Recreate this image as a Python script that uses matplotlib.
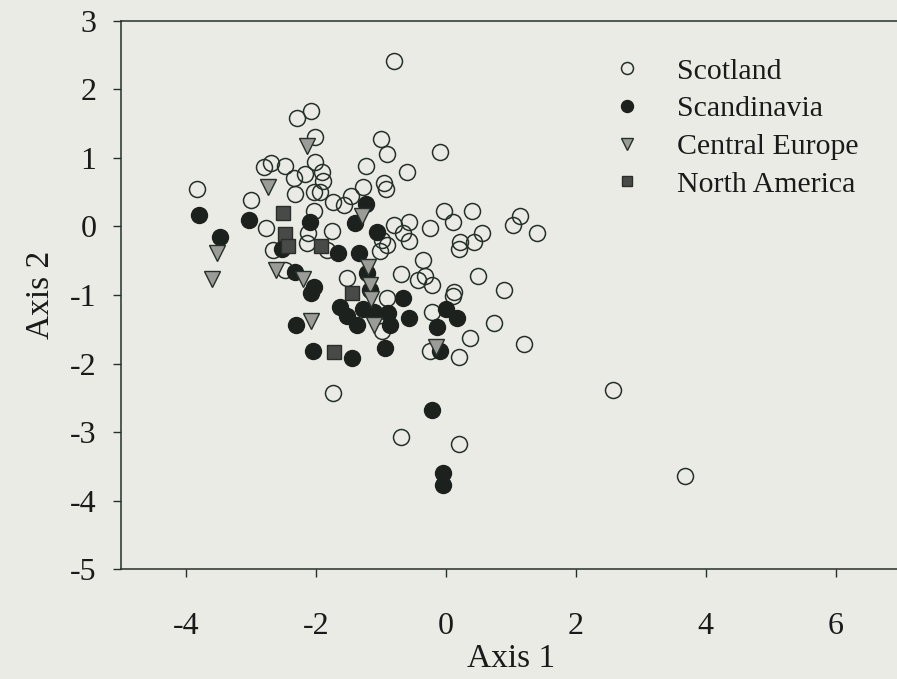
import numpy as np
import matplotlib
matplotlib.use("Agg")
import matplotlib.pyplot as plt

plt.rcParams['font.family'] = ['Liberation Serif', 'DejaVu Serif']
plt.rcParams['axes.unicode_minus'] = False

### ordination scores
scot_x = [-0.80, -2.29, -2.07, -2.01, -1.00, -0.90, -0.08, -2.79, -2.69, -2.48,
          -2.01, -1.23, -2.34, -2.16, -1.90, -1.88, -0.59, -0.95, -0.92, -1.27,
          -3.82, -2.32, -2.03, -1.94, -1.73, -1.45, -1.56, -2.99, -2.03, -2.77,
          -1.75, -2.12, -2.14, -1.83, -2.65, -2.47, -1.52, -0.03, 0.40, 0.11,
          -0.80, -0.57, -0.24, 1.14, 1.04, 1.40, 0.56, -0.65, -0.57, -1.01,
          -0.90, -0.98, 0.22, 0.20, 0.43, -0.35, -0.69, -0.43, -0.32, -0.21,
          0.49, 0.89, -0.90, -0.98, -0.21, 0.12, 0.13, -0.24, 0.20, 0.37,
          0.75, 1.20, -1.73, -0.68, 0.20, 2.58, 3.68]
scot_y = [2.41, 1.58, 1.69, 1.31, 1.27, 1.06, 1.08, 0.87, 0.92, 0.88,
          0.94, 0.88, 0.71, 0.76, 0.79, 0.66, 0.79, 0.64, 0.55, 0.57,
          0.55, 0.47, 0.51, 0.51, 0.36, 0.45, 0.32, 0.38, 0.22, -0.02,
          -0.07, -0.09, -0.24, -0.34, -0.34, -0.63, -0.75, 0.22, 0.23, 0.07,
          0.02, 0.07, -0.02, 0.15, 0.02, -0.09, -0.10, -0.10, -0.21, -0.36,
          -0.27, -0.19, -0.22, -0.33, -0.22, -0.49, -0.69, -0.78, -0.72, -0.85,
          -0.72, -0.92, -1.04, -1.53, -1.24, -1.02, -0.95, -1.81, -1.90, -1.63,
          -1.41, -1.72, -2.43, -3.07, -3.17, -2.38, -3.64]

scan_x = [-3.80, -3.03, -3.47, -2.09, -1.40, -1.23, -1.05, -2.52, -2.32, -2.02,
          -2.08, -1.65, -1.34, -1.21, -1.16, -1.62, -1.52, -1.37, -1.27, -1.11,
          -0.88, -0.85, -0.65, -0.57, -0.93, -2.30, -2.04, -1.44, -0.14, 0.01,
          0.18, -0.08, -0.21, -0.04, -0.04]
scan_y = [0.17, 0.09, -0.16, 0.07, 0.05, 0.33, -0.08, -0.33, -0.66, -0.88,
          -0.97, -0.38, -0.39, -0.68, -0.92, -1.17, -1.31, -1.43, -1.21, -1.24,
          -1.26, -1.43, -1.04, -1.34, -1.77, -1.43, -1.81, -1.92, -1.46, -1.21,
          -1.34, -1.82, -2.67, -3.60, -3.77]

ceu_x = [-2.14, -2.73, -1.28, -3.52, -3.60, -2.61, -2.20, -1.19, -1.16, -1.15,
         -1.11, -2.07, -0.15]
ceu_y = [1.18, 0.57, 0.16, -0.38, -0.76, -0.63, -0.77, -0.59, -0.85, -1.06,
         -1.43, -1.38, -1.75]

nam_x = [-2.51, -2.47, -2.42, -1.92, -1.44, -1.72]
nam_y = [0.19, -0.11, -0.29, -0.29, -0.97, -1.83]

bg = '#ebebe6'
ink = '#26302a'

fig = plt.figure(figsize=(8.97, 6.79), dpi=100, facecolor=bg)
ax = fig.add_axes([0.1346, 0.1613, 0.8694, 0.8082], facecolor=bg)

ax.plot(scot_x, scot_y, 'o', ms=11.5, mfc='none', mec=ink, mew=1.1, label='Scotland', zorder=3)
ax.plot(scan_x, scan_y, 'o', ms=11.5, mfc='#1c211d', mec='#1c211d', mew=1.0, label='Scandinavia', zorder=3)
ax.plot(ceu_x, ceu_y, 'v', ms=12, mfc='#9b9c98', mec=ink, mew=1.0, label='Central Europe', zorder=4)
ax.plot(nam_x, nam_y, 's', ms=9.5, mfc='#474a46', mec='#2a2e2a', mew=1.0, label='North America', zorder=4)

ax.set_xlim(-5, 7)
ax.set_ylim(-5, 3)
ax.set_xticks([-4, -2, 0, 2, 4, 6])
ax.set_yticks([-5, -4, -3, -2, -1, 0, 1, 2, 3])

for s in ax.spines.values():
    s.set_color(ink)
    s.set_linewidth(1.1)
ax.tick_params(axis='both', direction='out', length=5.5, width=1.0, color=ink,
               labelsize=23, labelcolor='#1a1a1a')
ax.tick_params(axis='x', pad=25)
ax.tick_params(axis='y', pad=12)

ax.set_xlabel("Axis 1", fontsize=24, color='#1a1a1a', labelpad=2)
ax.set_ylabel("Axis 2", fontsize=24, color='#1a1a1a', labelpad=10)

leg = ax.legend(loc='upper left', bbox_to_anchor=(597/897, 1 - 43/679),
                bbox_transform=fig.transFigure, frameon=False, fontsize=21.5,
                markerscale=0.75, handlelength=1.0, handletextpad=1.17,
                labelspacing=0.36, borderpad=0)
for t in leg.get_texts():
    t.set_color('#1a1a1a')

fig.savefig('out.png', dpi=100, facecolor=bg)
